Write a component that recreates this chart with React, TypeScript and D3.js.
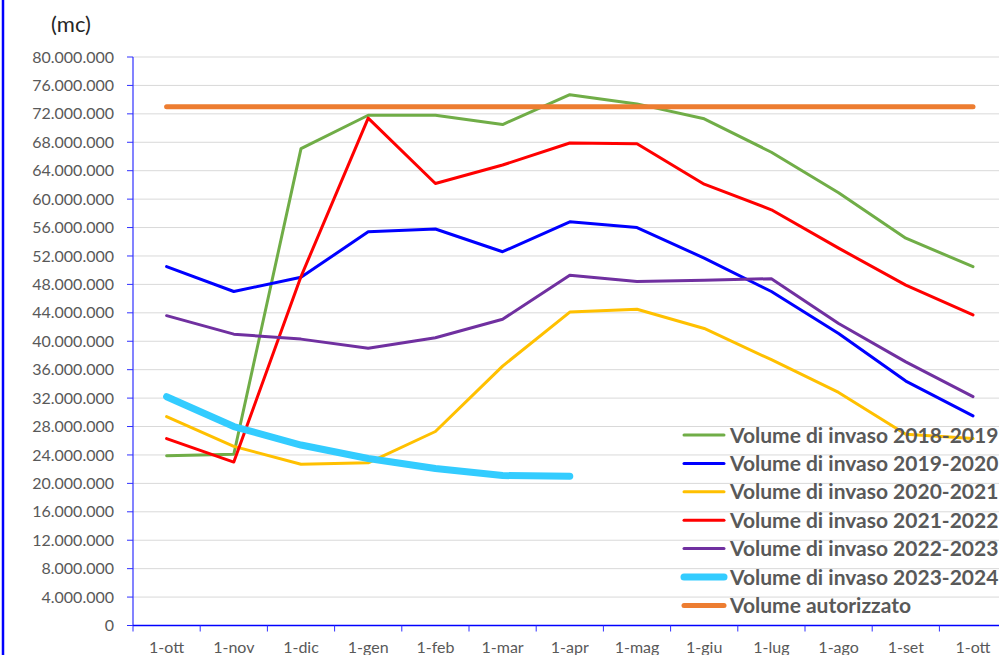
import React from 'react';
import * as d3 from 'd3';

const months = ['1-ott', '1-nov', '1-dic', '1-gen', '1-feb', '1-mar', '1-apr', '1-mag', '1-giu', '1-lug', '1-ago', '1-set', '1-ott'];

const vol2018 = [23.9, 24.1, 67.1, 71.8, 71.8, 70.5, 74.7, 73.4, 71.3, 66.6, 60.9, 54.5, 50.5];
const vol2019 = [50.5, 47.0, 49.0, 55.4, 55.8, 52.6, 56.8, 56.0, 51.7, 47.0, 41.1, 34.4, 29.5];
const vol2020 = [29.4, 25.2, 22.7, 22.9, 27.3, 36.5, 44.1, 44.5, 41.8, 37.4, 32.8, 26.9, 26.3];
const vol2021 = [26.3, 23.0, 49.1, 71.4, 62.2, 64.8, 67.9, 67.8, 62.1, 58.5, 53.1, 47.9, 43.7];
const vol2022 = [43.6, 41.0, 40.3, 39.0, 40.5, 43.1, 49.3, 48.4, 48.6, 48.8, 42.5, 37.1, 32.2];
const vol2023 = [32.2, 28.0, 25.4, 23.5, 22.1, 21.1, 21.0];
const autorizzato = [73.0, 73.0, 73.0, 73.0, 73.0, 73.0, 73.0, 73.0, 73.0, 73.0, 73.0, 73.0, 73.0];

const yTicks = d3.range(0, 80000001, 4000000);

const series = [
  { name: 'Volume di invaso 2018-2019', values: vol2018, color: '#70AD47', width: 3 },
  { name: 'Volume di invaso 2019-2020', values: vol2019, color: '#0000FF', width: 3 },
  { name: 'Volume di invaso 2020-2021', values: vol2020, color: '#FFC000', width: 3 },
  { name: 'Volume di invaso 2021-2022', values: vol2021, color: '#FF0000', width: 3 },
  { name: 'Volume di invaso 2022-2023', values: vol2022, color: '#7030A0', width: 3 },
  { name: 'Volume di invaso 2023-2024', values: vol2023, color: '#33CCFF', width: 7 },
  { name: 'Volume autorizzato', values: autorizzato, color: '#ED7D31', width: 5 },
];

const W = 999;
const H = 655;
const left = 133;
const bandW = 67.2;
const top = 57;
const bottom = 625.5;

const itFormat = d3.formatLocale({ decimal: ',', thousands: '.', grouping: [3], currency: ['€', ''] }).format(',d');

const App: React.FC = () => {
  const x = d3.scaleBand<number>()
    .domain(d3.range(months.length))
    .range([left, left + bandW * months.length]);
  const y = d3.scaleLinear().domain([0, 80000000]).range([bottom, top]);

  const line = d3.line<number>()
    .x((_, i) => (x(i) as number) + x.bandwidth() / 2)
    .y(d => y(d * 1e6));

  const axisColor = '#3030FF';
  const textColor = '#595959';
  const font = 'Lato, "Liberation Sans", sans-serif';

  return (
    <svg width={W} height={H} style={{ position: 'absolute', left: 0, top: 0, background: '#fff' }}>
      <rect x={0} y={0} width={W} height={H} fill="#fff" />
      {/* frame edge on the left */}
      <line x1={3} x2={3} y1={0} y2={H} stroke="#0000FF" strokeWidth={2.5} />

      <text x={71} y={32} fontFamily={font} fontSize={22} fill="#262626" textAnchor="middle">(mc)</text>

      {/* grid + y axis */}
      {yTicks.map(t => (
        <g key={t}>
          {t > 0 && <line x1={left} x2={W} y1={y(t)} y2={y(t)} stroke="#D9D9D9" strokeWidth={1} />}
          <line x1={left - 6} x2={left} y1={y(t)} y2={y(t)} stroke={axisColor} strokeWidth={1} />
          <text x={114} y={y(t)} dy="0.35em" textAnchor="end" fontFamily={font} fontSize={16} fill={textColor}>
            {itFormat(t)}
          </text>
        </g>
      ))}
      <line x1={left} x2={left} y1={top} y2={bottom} stroke={axisColor} strokeWidth={1.2} />

      {/* x axis */}
      <line x1={left} x2={W} y1={bottom} y2={bottom} stroke="#0000FF" strokeWidth={1.5} />
      {d3.range(months.length + 1).map(i => {
        const xx = left + i * x.bandwidth();
        return <line key={i} x1={xx} x2={xx} y1={bottom} y2={bottom + 6} stroke={axisColor} strokeWidth={1} />;
      })}
      {months.map((m, i) => (
        <text key={i} x={(x(i) as number) + x.bandwidth() / 2} y={653} textAnchor="middle"
          fontFamily={font} fontSize={16} fill={textColor}>{m}</text>
      ))}

      {/* series */}
      {series.map(s => (
        <path key={s.name} d={line(s.values) || ''} fill="none" stroke={s.color} strokeWidth={s.width}
          strokeLinejoin="round" strokeLinecap="round" />
      ))}

      {/* legend */}
      {series.map((s, i) => {
        const ly = 435 + i * 28.4;
        return (
          <g key={s.name}>
            <line x1={684} x2={724} y1={ly} y2={ly} stroke={s.color} strokeWidth={s.width} strokeLinecap="round" />
            <text x={730} y={ly} dy="0.36em" fontFamily={font} fontWeight="bold" fontSize={21} fill={textColor}>
              {s.name}
            </text>
          </g>
        );
      })}
    </svg>
  );
};

export default App;
